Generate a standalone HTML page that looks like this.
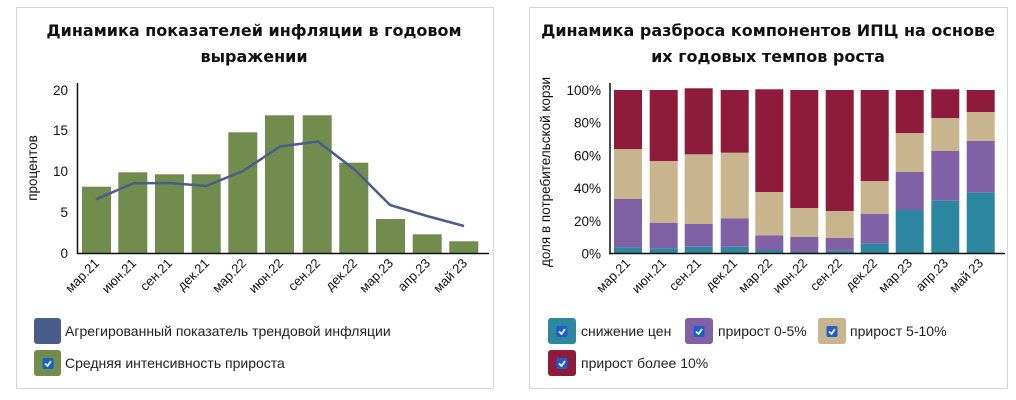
<!DOCTYPE html>
<html><head><meta charset="utf-8"><style>
html,body{margin:0;padding:0;background:#fff;}
svg{display:block;font-family:"Liberation Sans","DejaVu Sans",sans-serif;}
</style></head><body>
<svg width="1016" height="400" viewBox="0 0 1016 400" xmlns="http://www.w3.org/2000/svg">
<rect x="0" y="0" width="1016" height="400" fill="#fff"/>
<rect x="16.5" y="7.5" width="477" height="381" fill="#fff" stroke="#d6d6d6"/>
<rect x="529.5" y="7.5" width="478" height="381" fill="#fff" stroke="#d6d6d6"/>
<g font-family="'DejaVu Sans',sans-serif" font-weight="bold" font-size="16" text-anchor="middle" fill="#111">
<text x="254" y="36">Динамика показателей инфляции в годовом</text>
<text x="254" y="62">выражении</text>
<text x="768" y="36">Динамика разброса компонентов ИПЦ на основе</text>
<text x="768" y="62">их годовых темпов роста</text>
</g>
<g fill="#728c4e">
<rect x="82" y="186.7" width="29" height="66.6"/>
<rect x="118.3" y="172.3" width="29" height="81"/>
<rect x="155" y="174.3" width="29" height="79"/>
<rect x="191.7" y="174.3" width="29" height="79"/>
<rect x="228.3" y="132.3" width="29" height="121"/>
<rect x="265" y="115.3" width="29" height="138"/>
<rect x="302.7" y="115.3" width="29" height="138"/>
<rect x="339.3" y="162.7" width="29" height="90.6"/>
<rect x="376" y="219" width="29" height="34.3"/>
<rect x="412.7" y="234.3" width="29" height="19"/>
<rect x="449.3" y="241.3" width="29" height="12"/>
</g>
<polyline fill="none" stroke="#4a5d8a" stroke-width="2.5" stroke-linejoin="round" points="96,199.3 133.3,183.3 170,183 206,186 243,171 280,146.5 318,141.5 355,170 390,205 427,216 464,226"/>
<line x1="77.5" y1="83" x2="77.5" y2="254" stroke="#111" stroke-width="1.5"/>
<line x1="77" y1="253.5" x2="489" y2="253.5" stroke="#111" stroke-width="1.5"/>
<g font-size="13.5" text-anchor="end" fill="#111">
<text x="68" y="95">20</text><text x="68" y="135">15</text><text x="68" y="176">10</text><text x="68" y="217">5</text><text x="68" y="258">0</text>
</g>
<text transform="translate(37,168) rotate(-90)" font-size="13.5" text-anchor="middle" fill="#111">процентов</text>
<g font-size="13" text-anchor="end" fill="#111">
<text transform="translate(100,264) rotate(-45)">мар.21</text>
<text transform="translate(137,264) rotate(-45)">июн.21</text>
<text transform="translate(173,264) rotate(-45)">сен.21</text>
<text transform="translate(210,264) rotate(-45)">дек.21</text>
<text transform="translate(247,264) rotate(-45)">мар.22</text>
<text transform="translate(284,264) rotate(-45)">июн.22</text>
<text transform="translate(321,264) rotate(-45)">сен.22</text>
<text transform="translate(358,264) rotate(-45)">дек.22</text>
<text transform="translate(394,264) rotate(-45)">мар.23</text>
<text transform="translate(431,264) rotate(-45)">апр.23</text>
<text transform="translate(468,264) rotate(-45)">май 23</text>
</g>
<rect x="34" y="318" width="27" height="26" rx="3" fill="#4a5d8a"/>
<rect x="34" y="350" width="27" height="26" rx="3" fill="#728c4e"/>
<g font-size="14" fill="#222">
<text x="65" y="336">Агрегированный показатель трендовой инфляции</text>
<text x="65" y="368">Средняя интенсивность прироста</text>
</g>
<g fill="#2e87a0">
<rect x="614" y="247.3" width="28" height="6"/><rect x="649.7" y="248.3" width="28" height="5"/><rect x="684.7" y="246.7" width="28" height="6.6"/><rect x="720.7" y="246.7" width="28" height="6.6"/><rect x="755.3" y="250" width="28" height="3.3"/><rect x="790.3" y="252" width="28" height="1.3"/><rect x="825.7" y="250.7" width="28" height="2.6"/><rect x="860.7" y="243.3" width="28" height="10"/><rect x="895.7" y="210" width="28" height="43.3"/><rect x="931.3" y="200.3" width="28" height="53"/><rect x="966.7" y="192.3" width="28" height="61"/>
</g>
<g fill="#8061a5">
<rect x="614" y="199" width="28" height="48.3"/><rect x="649.7" y="222.7" width="28" height="25.6"/><rect x="684.7" y="224" width="28" height="22.7"/><rect x="720.7" y="218.3" width="28" height="28.4"/><rect x="755.3" y="235.3" width="28" height="14.7"/><rect x="790.3" y="237" width="28" height="15"/><rect x="825.7" y="238" width="28" height="12.7"/><rect x="860.7" y="213.7" width="28" height="29.6"/><rect x="895.7" y="172" width="28" height="38"/><rect x="931.3" y="151" width="28" height="49.3"/><rect x="966.7" y="141" width="28" height="51.3"/>
</g>
<g fill="#c8b58e">
<rect x="614" y="149" width="28" height="50"/><rect x="649.7" y="161" width="28" height="61.7"/><rect x="684.7" y="154.3" width="28" height="69.7"/><rect x="720.7" y="152.7" width="28" height="65.6"/><rect x="755.3" y="192" width="28" height="43.3"/><rect x="790.3" y="208" width="28" height="29"/><rect x="825.7" y="211" width="28" height="27"/><rect x="860.7" y="181" width="28" height="32.7"/><rect x="895.7" y="133" width="28" height="39"/><rect x="931.3" y="118" width="28" height="33"/><rect x="966.7" y="112" width="28" height="29"/>
</g>
<g fill="#8e1a3c">
<rect x="614" y="90" width="28" height="59"/><rect x="649.7" y="90" width="28" height="71"/><rect x="684.7" y="88.3" width="28" height="66"/><rect x="720.7" y="90" width="28" height="62.7"/><rect x="755.3" y="89.3" width="28" height="102.7"/><rect x="790.3" y="90" width="28" height="118"/><rect x="825.7" y="90" width="28" height="121"/><rect x="860.7" y="90" width="28" height="91"/><rect x="895.7" y="90" width="28" height="43"/><rect x="931.3" y="89.3" width="28" height="28.7"/><rect x="966.7" y="90" width="28" height="22"/>
</g>
<line x1="610" y1="83" x2="610" y2="254" stroke="#111" stroke-width="1.5"/>
<line x1="609" y1="253.5" x2="1005" y2="253.5" stroke="#111" stroke-width="1.5"/>
<g font-size="13.5" text-anchor="end" fill="#111">
<text x="601" y="95">100%</text><text x="601" y="127.7">80%</text><text x="601" y="160.4">60%</text><text x="601" y="193">40%</text><text x="601" y="225.8">20%</text><text x="601" y="258.5">0%</text>
</g>
<text transform="translate(550,172) rotate(-90)" font-size="13.5" text-anchor="middle" fill="#111">доля в потребительской корзи</text>
<g font-size="13" text-anchor="end" fill="#111">
<text transform="translate(631,264) rotate(-45)">мар.21</text>
<text transform="translate(667,264) rotate(-45)">июн.21</text>
<text transform="translate(702,264) rotate(-45)">сен.21</text>
<text transform="translate(738,264) rotate(-45)">дек.21</text>
<text transform="translate(773,264) rotate(-45)">мар.22</text>
<text transform="translate(808,264) rotate(-45)">июн.22</text>
<text transform="translate(843,264) rotate(-45)">сен.22</text>
<text transform="translate(878,264) rotate(-45)">дек.22</text>
<text transform="translate(913,264) rotate(-45)">мар.23</text>
<text transform="translate(949,264) rotate(-45)">апр.23</text>
<text transform="translate(984,264) rotate(-45)">май 23</text>
</g>
<rect x="548" y="318" width="28" height="26" rx="3" fill="#2e87a0"/>
<rect x="685" y="318" width="28" height="26" rx="3" fill="#8061a5"/>
<rect x="818" y="318" width="28" height="26" rx="3" fill="#c8b58e"/>
<rect x="548" y="350" width="28" height="26" rx="3" fill="#8e1a3c"/>
<g font-size="14" fill="#222">
<text x="581" y="336">снижение цен</text>
<text x="718" y="336">прирост 0-5%</text>
<text x="850" y="336">прирост 5-10%</text>
<text x="581" y="368">прирост более 10%</text>
</g>
<g>
<rect x="42.5" y="358" width="11" height="11" rx="2" fill="#1a5fd0"/>
<rect x="556.5" y="326" width="11" height="11" rx="2" fill="#1a5fd0"/>
<rect x="693.5" y="326" width="11" height="11" rx="2" fill="#1a5fd0"/>
<rect x="826.5" y="326" width="11" height="11" rx="2" fill="#1a5fd0"/>
<rect x="556.5" y="358" width="11" height="11" rx="2" fill="#1a5fd0"/>
</g>
<g fill="none" stroke="#fff" stroke-width="1.6">
<polyline points="45,363.5 47.5,366 51,361"/>
<polyline points="559,331.5 561.5,334 565,329"/>
<polyline points="696,331.5 698.5,334 702,329"/>
<polyline points="829,331.5 831.5,334 835,329"/>
<polyline points="559,363.5 561.5,366 565,361"/>
</g>
</svg>
</body></html>
